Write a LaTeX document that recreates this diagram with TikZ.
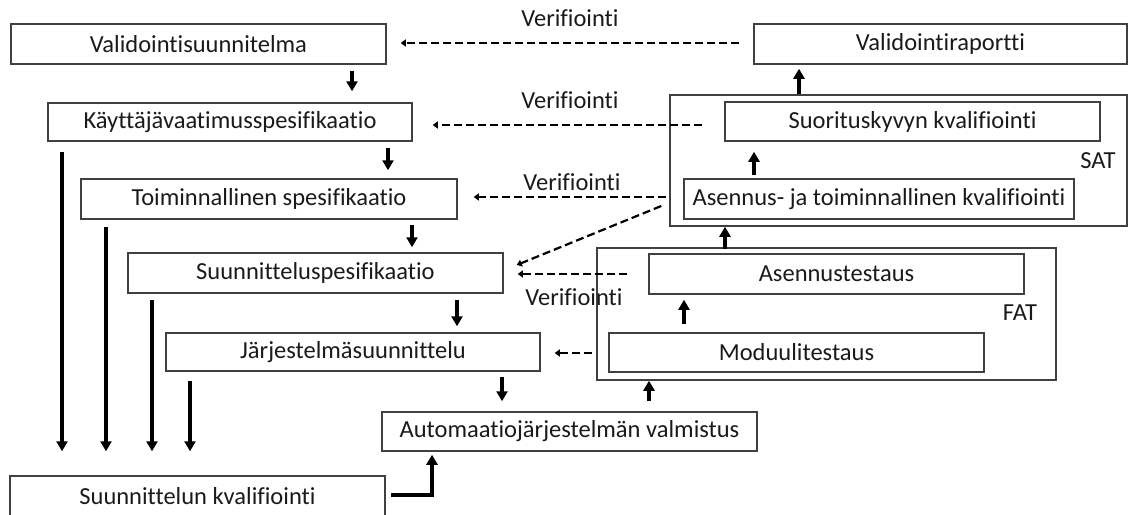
\documentclass[tikz,border=0pt]{standalone}
\usepackage{fontspec}
\setmainfont{Carlito}[Ligatures=NoCommon]
\usetikzlibrary{arrows.meta,calc}
\definecolor{boxgray}{HTML}{404040}
\definecolor{txt}{HTML}{1A1A1A}
\begin{document}
\begin{tikzpicture}[x=1pt,y=-1pt,
  every node/.style={text=txt},
  boxnode/.style={draw=boxgray,line width=1.5pt,inner sep=0pt,font=\fontsize{24.5}{29}\selectfont},
  lbl/.style={inner sep=0pt,font=\fontsize{24.5}{29}\selectfont},
  arr/.style={line width=3.2pt,-{Triangle[length=10pt,width=11pt]}},
  darr/.style={line width=2.2pt,dash pattern=on 8pt off 4pt,-{Triangle[length=5pt,width=7pt]}}]
\useasboundingbox (0,0) rectangle (1129,514);
\clip (0,0) rectangle (1129,514);
% containers
\node[boxnode,minimum width=457pt,minimum height=131pt] (sat) at (898.5,160.5) {};
\node[boxnode,minimum width=459pt,minimum height=132pt] (fat) at (826.5,314) {};
% left column
\node[boxnode,minimum width=375pt,minimum height=40pt] (vs) at (198.5,44) {Validointisuunnitelma};
\node[boxnode,minimum width=364pt,minimum height=38pt] (kv) at (230,122) {Käyttäjävaatimusspesifikaatio};
\node[boxnode,minimum width=376pt,minimum height=40pt] (ts) at (269,199) {Toiminnallinen spesifikaatio};
\node[boxnode,minimum width=375pt,minimum height=40pt] (ss) at (315.5,273) {Suunnitteluspesifikaatio};
\node[boxnode,minimum width=374pt,minimum height=38pt] (js) at (353,352) {Järjestelmäsuunnittelu};
\node[boxnode,minimum width=375pt,minimum height=39pt] (av) at (569.5,431.5) {Automaatiojärjestelmän valmistus};
\node[boxnode,minimum width=375pt,minimum height=40pt] (sk) at (197.5,496) {Suunnittelun kvalifiointi};
% right column
\node[boxnode,minimum width=373pt,minimum height=40pt] (vr) at (940.5,44) {Validointiraportti};
\node[boxnode,minimum width=375pt,minimum height=39pt] (skk) at (912.5,121.5) {Suorituskyvyn kvalifiointi};
\node[boxnode,minimum width=390pt,minimum height=40pt] (atk) at (879,199) {Asennus- ja toiminnallinen kvalifiointi};
\node[boxnode,minimum width=375pt,minimum height=40pt] (at) at (836.5,274) {Asennustestaus};
\node[boxnode,minimum width=375pt,minimum height=39pt] (mt) at (796.5,352.5) {Moduulitestaus};
% labels
\node[lbl] (satl) at (1098,161) {SAT};
\node[lbl] (fatl) at (1020,313) {FAT};
\node[lbl] (v1) at (570,18) {Verifiointi};
\node[lbl] (v2) at (570,100) {Verifiointi};
\node[lbl] (v3) at (572,182) {Verifiointi};
\node[lbl] (v4) at (574,297) {Verifiointi};
% solid arrows
\draw[arr] ($(vs.south)+(153.5,6)$) -- ($(kv.north)+(122,-11)$);
\draw[arr] ($(kv.south)+(158,6)$) -- ($(ts.north)+(119,-8)$);
\draw[arr] ($(ts.south)+(143,5)$) -- ($(ss.north)+(96.5,-5)$);
\draw[arr] ($(ss.south)+(141.5,6)$) -- ($(js.north)+(104,-6)$);
\draw[arr] ($(js.south)+(149,5)$) -- ($(av.north)+(-67.5,-10)$);
\draw[arr] ($(av.north)+(79.5,-10)$) -- ($(fat.south)+(-177.5,0)$);
\draw[arr] ($(mt.north)+(-112.5,-8)$) -- ($(at.south)+(-152.5,5)$);
\draw[arr] ($(fat.north)+(-101.5,2)$) -- ($(sat.south)+(-173.5,0)$);
\draw[arr] ($(atk.north)+(-125,-3)$) -- ($(skk.south)+(-158.5,10)$);
\draw[arr] ($(sat.north)+(-99.5,0)$) -- ($(vr.south)+(-141.5,4)$);
\draw[arr] ($(kv.south)+(-168,10)$) -- ($(sk.north)+(-135.5,-24)$);
\draw[arr] ($(ts.south)+(-163,7)$) -- ($(sk.north)+(-91.5,-24)$);
\draw[arr] ($(ss.south)+(-163.5,6)$) -- ($(sk.north)+(-45.5,-24)$);
\draw[arr] ($(js.south)+(-163,9)$) -- ($(sk.north)+(-7.5,-24)$);
\draw[arr] ($(sk.east)+(5,-1)$) -| ($(av.south)+(-137.5,3)$);
% dashed verification arrows
\draw[darr] ($(vr.west)+(-14,-1)$) -- ($(vs.east)+(14,-1)$);
\draw[darr] ($(skk.west)+(-22,3.5)$) -- ($(kv.east)+(20,3)$);
\draw[darr] ($(atk.west)+(-17,-2)$) -- ($(ts.east)+(16,-2)$);
\draw[darr] ($(atk.west)+(-22,7)$) -- ($(ss.east)+(13,-8)$);
\draw[darr] ($(at.west)+(-21,0)$) -- ($(ss.east)+(14,1)$);
\draw[darr] ($(mt.west)+(-16,0.5)$) -- ($(js.east)+(14,1)$);
\end{tikzpicture}
\end{document}
